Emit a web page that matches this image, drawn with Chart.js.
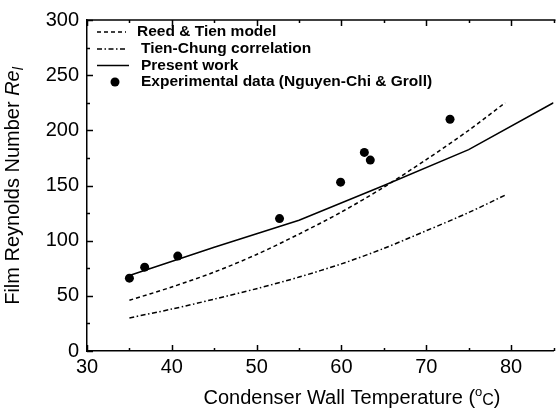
<!DOCTYPE html>
<html>
<head>
<meta charset="utf-8">
<script src="https://cdn.jsdelivr.net/npm/chart.js@4.4.1/dist/chart.umd.min.js"></script>
<style>
  html, body { margin: 0; padding: 0; background: #fff; overflow: hidden; }
  #wrap { width: 558px; height: 410px; }
</style>
</head>
<body>
<div id="wrap"><canvas id="c" width="558" height="410"></canvas></div>
<script>
// Reed & Tien model (dashed)
const reedT  = [35, 40, 45, 50, 55, 60, 65, 70, 75, 79.3];
const reedRe = [46, 58, 71.5, 87.5, 106, 126, 148.5, 173.5, 200, 225];
// Tien-Chung correlation (dash-dot)
const tcT  = [35, 40, 45, 50, 55, 60, 65, 70, 75, 79.5];
const tcRe = [30, 38, 47, 56.5, 67, 79, 93, 109, 125.5, 142];
// Present work (solid)
const presT  = [35, 45, 55, 65, 75, 85];
const presRe = [68.5, 94, 118.5, 150, 182.5, 225];
// Experimental data (Nguyen-Chi & Groll)
const expT  = [35, 36.8, 40.7, 52.7, 59.9, 62.7, 63.4, 72.8];
const expRe = [66, 76, 86, 120, 153, 180, 173, 210];

const legendLabels = ['Reed & Tien model', 'Tien-Chung correlation', 'Present work', 'Experimental data (Nguyen-Chi & Groll)'];

const FONT = "'Liberation Sans', Arial, sans-serif";

function pts(xs, ys) {
    return xs.map((v, i) => ({ x: v, y: ys[i] }));
}

// Axis frame, inward ticks, legend and axis titles
const decor = {
    id: 'decor',
    afterDraw(chart) {
        const { ctx, chartArea: a, scales: { x, y } } = chart;
        ctx.save();
        ctx.strokeStyle = '#000';
        ctx.fillStyle = '#000';
        ctx.lineWidth = 1.5;

        // top border
        ctx.beginPath();
        ctx.moveTo(a.left, a.top);
        ctx.lineTo(a.right + 2, a.top);
        ctx.stroke();

        // x ticks, bottom and top, pointing inside
        for (let v = 30; v <= 85; v += 5) {
            const px = Math.round(x.getPixelForValue(v)) + 0.5;
            const len = v % 10 === 0 ? 6 : 3;
            ctx.beginPath();
            ctx.moveTo(px, a.bottom);
            ctx.lineTo(px, a.bottom - len);
            ctx.moveTo(px, a.top);
            ctx.lineTo(px, a.top + len);
            ctx.stroke();
        }
        // y ticks on the left, pointing inside
        for (let v = 0; v <= 300; v += 25) {
            const py = Math.round(y.getPixelForValue(v)) + 0.5;
            const len = v % 50 === 0 ? 6 : 3;
            ctx.beginPath();
            ctx.moveTo(a.left, py);
            ctx.lineTo(a.left + len, py);
            ctx.stroke();
        }

        // legend
        const rows = [32, 49, 65.5, 82];
        ctx.lineWidth = 1.5;
        ctx.setLineDash([4, 3]);
        ctx.beginPath(); ctx.moveTo(97, rows[0]); ctx.lineTo(126, rows[0]); ctx.stroke();
        ctx.setLineDash([5, 2.5, 1.5, 2.5]);
        ctx.beginPath(); ctx.moveTo(97, rows[1]); ctx.lineTo(126, rows[1]); ctx.stroke();
        ctx.setLineDash([]);
        ctx.beginPath(); ctx.moveTo(97, rows[2]); ctx.lineTo(129, rows[2]); ctx.stroke();
        ctx.beginPath(); ctx.arc(115, rows[3], 4.5, 0, Math.PI * 2); ctx.fill();

        ctx.font = 'bold 15.5px ' + FONT;
        ctx.textBaseline = 'middle';
        ctx.textAlign = 'left';
        ctx.fillText(legendLabels[0], 137, rows[0]);
        ctx.fillText(legendLabels[1], 141, rows[1]);
        ctx.fillText(legendLabels[2], 141, rows[2]);
        ctx.fillText(legendLabels[3], 141, rows[3]);

        // x title with superscript o
        ctx.textBaseline = 'alphabetic';
        const t1 = 'Condenser Wall Temperature (';
        ctx.font = '20px ' + FONT;
        const w1 = ctx.measureText(t1).width;
        ctx.font = '13px ' + FONT;
        const w2 = ctx.measureText('o').width;
        ctx.font = '16px ' + FONT;
        const w3 = ctx.measureText('C').width;
        ctx.font = '20px ' + FONT;
        const w4 = ctx.measureText(')').width;
        let sx = 352 - (w1 + w2 + w3 + w4) / 2;
        const by = 404;
        ctx.font = '20px ' + FONT;
        ctx.fillText(t1, sx, by); sx += w1;
        ctx.font = '13px ' + FONT;
        ctx.fillText('o', sx, by - 8); sx += w2;
        ctx.font = '16px ' + FONT;
        ctx.fillText('C', sx, by + 1); sx += w3;
        ctx.font = '20px ' + FONT;
        ctx.fillText(')', sx, by);

        // y title, rotated, with italic Re and subscript l
        ctx.translate(19, 186);
        ctx.rotate(-Math.PI / 2);
        const s1 = 'Film Reynolds Number ';
        ctx.font = '20px ' + FONT;
        const v1 = ctx.measureText(s1).width;
        ctx.font = 'italic 20px ' + FONT;
        const v2 = ctx.measureText('Re').width;
        ctx.font = 'italic 14px ' + FONT;
        const v3 = ctx.measureText('l').width;
        let tx = -(v1 + v2 + v3) / 2;
        ctx.font = '20px ' + FONT;
        ctx.fillText(s1, tx, 0); tx += v1;
        ctx.font = 'italic 20px ' + FONT;
        ctx.fillText('Re', tx, 0); tx += v2;
        ctx.font = 'italic 14px ' + FONT;
        ctx.fillText('l', tx, 4);
        ctx.restore();
    }
};

const ctx = document.getElementById('c').getContext('2d');
new Chart(ctx, {
    type: 'scatter',
    data: {
        datasets: [
            {
                label: legendLabels[0],
                data: pts(reedT, reedRe),
                showLine: true,
                borderColor: '#000',
                borderWidth: 1.5,
                borderDash: [4, 3],
                pointRadius: 0,
                tension: 0.3
            },
            {
                label: legendLabels[1],
                data: pts(tcT, tcRe),
                showLine: true,
                borderColor: '#000',
                borderWidth: 1.5,
                borderDash: [5, 2.5, 1.5, 2.5],
                pointRadius: 0,
                tension: 0.3
            },
            {
                label: legendLabels[2],
                data: pts(presT, presRe),
                showLine: true,
                borderColor: '#000',
                borderWidth: 1.5,
                pointRadius: 0,
                tension: 0
            },
            {
                label: legendLabels[3],
                data: pts(expT, expRe),
                showLine: false,
                backgroundColor: '#000',
                borderColor: '#000',
                pointRadius: 4.5,
                pointBorderWidth: 0
            }
        ]
    },
    options: {
        responsive: false,
        animation: false,
        devicePixelRatio: 1,
        layout: { padding: { left: 0, top: 15, right: 0, bottom: 0 } },
        plugins: {
            legend: { display: false },
            tooltip: { enabled: false }
        },
        scales: {
            x: {
                type: 'linear',
                min: 30,
                max: 85,
                grid: { display: false, drawTicks: false },
                border: { display: true, color: '#000', width: 1.5 },
                ticks: {
                    stepSize: 5,
                    autoSkip: false,
                    maxRotation: 0,
                    padding: 4,
                    color: '#000',
                    font: { family: FONT, size: 20 },
                    callback: v => (v % 10 === 0 && v < 85) ? v : ''
                },
                afterFit: s => { s.height = 59; }
            },
            y: {
                type: 'linear',
                min: 0,
                max: 300,
                grid: { display: false, drawTicks: false },
                border: { display: true, color: '#000', width: 1.5 },
                ticks: {
                    stepSize: 25,
                    autoSkip: false,
                    padding: 8,
                    color: '#000',
                    font: { family: FONT, size: 20 },
                    callback: v => v % 50 === 0 ? v : ''
                },
                afterFit: s => { s.width = 87; }
            }
        }
    },
    plugins: [decor]
});
</script>
</body>
</html>
